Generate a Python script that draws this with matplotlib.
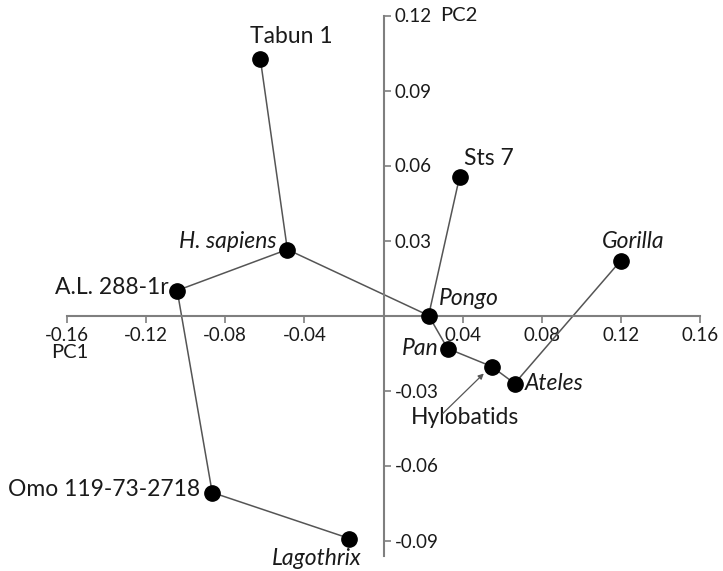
#!/usr/bin/env python3
"""PCA scatter (PC1 vs PC2) with minimum spanning tree links between taxa."""

import matplotlib
matplotlib.use("Agg")
import matplotlib.pyplot as plt

# Specimen / taxon scores on the first two principal components
names = ["Tabun 1", "Sts 7", "H. sapiens", "Gorilla", "A.L. 288-1r", "Pongo",
         "Pan", "Hylobatids", "Ateles", "Omo 119-73-2718", "Lagothrix"]
pc1 = [-0.0623, 0.0385, -0.0486, 0.1200, -0.1043, 0.0228,
       0.0324, 0.0547, 0.0663, -0.0866, -0.0172]
pc2 = [0.1028, 0.0556, 0.0264, 0.0220, 0.0100, 0.0000,
       -0.0132, -0.0204, -0.0272, -0.0708, -0.0892]
italic = [False, False, True, True, False, True,
          True, False, True, False, True]

# Minimum spanning tree edges (by name)
edges = [("Tabun 1", "H. sapiens"), ("H. sapiens", "A.L. 288-1r"),
         ("H. sapiens", "Pongo"), ("Pongo", "Sts 7"), ("Pongo", "Pan"),
         ("Pan", "Hylobatids"), ("Hylobatids", "Ateles"),
         ("Ateles", "Gorilla"), ("A.L. 288-1r", "Omo 119-73-2718"),
         ("Omo 119-73-2718", "Lagothrix")]

xticks = [-0.16, -0.12, -0.08, -0.04, 0.04, 0.08, 0.12, 0.16]
yticks = [-0.09, -0.06, -0.03, 0.03, 0.06, 0.09, 0.12]

# label placement: (dx, dy in pixels, ha)
label_pos = {
    "Tabun 1": (31, 22, "center"),
    "Sts 7": (4, 18, "left"),
    "H. sapiens": (-11, 8, "right"),
    "Gorilla": (12, 19, "center"),
    "A.L. 288-1r": (-9, 3, "right"),
    "Pongo": (10, 17, "left"),
    "Pan": (-9, 0, "right"),
    "Ateles": (10, 0, "left"),
    "Omo 119-73-2718": (-12, 3, "right"),
    "Lagothrix": (-33, -20, "center"),
}

plt.rcParams['font.family'] = ['Lato', 'DejaVu Sans']

fig = plt.figure(figsize=(7.23, 5.71), dpi=100)
ax = fig.add_axes([67 / 723, 15.5 / 571, 633 / 723, 540 / 571])
ax.set_xlim(-0.16, 0.16)
ax.set_ylim(-0.096, 0.12)

idx = {n: i for i, n in enumerate(names)}
for a, b in edges:
    i, j = idx[a], idx[b]
    ax.plot([pc1[i], pc1[j]], [pc2[i], pc2[j]], color='#555555', lw=1.1,
            zorder=2)
ax.plot(pc1, pc2, 'o', color='black', markersize=11, zorder=3)

for i, n in enumerate(names):
    if n not in label_pos:
        continue
    dx, dy, ha = label_pos[n]
    ax.annotate(n, (pc1[i], pc2[i]), xytext=(dx, dy),
                textcoords='offset pixels', ha=ha, va='center',
                fontsize=16.5, style='italic' if italic[i] else 'normal',
                color='#1a1a1a')

# Hylobatids label sits below, with a pointer arrow
h = idx["Hylobatids"]
ax.annotate("Hylobatids", (pc1[h], pc2[h]), xytext=(-27, -51),
            textcoords='offset pixels', ha='center', va='center',
            fontsize=16.5, color='#1a1a1a')
ax.annotate("", (pc1[h] - 0.004, pc2[h] - 0.0028), xytext=(-41, -40),
            textcoords='offset pixels',
            arrowprops=dict(arrowstyle='-|>', color='#555555', lw=0.9,
                            mutation_scale=8, shrinkA=0, shrinkB=0))

# axes crossing at the origin
for s in ['top', 'left']:
    ax.spines[s].set_visible(False)
ax.spines['bottom'].set_position(('data', 0))
ax.spines['right'].set_position(('data', 0))
for s in ['bottom', 'right']:
    ax.spines[s].set_color('#7f7f7f')
    ax.spines[s].set_linewidth(1.5)
ax.yaxis.tick_right()
ax.set_xticks(xticks)
ax.set_yticks(yticks)
ax.set_xticklabels([f"{v:.2f}" for v in xticks])
ax.set_yticklabels([f"{v:.2f}" for v in yticks])
ax.tick_params(axis='both', direction='out', length=5, width=1.2,
               color='#7f7f7f', labelsize=13.5, labelcolor='#1a1a1a', pad=3)

ax.annotate("PC1", (-0.16, 0), xytext=(3, -37), textcoords='offset pixels',
            ha='center', va='center', fontsize=14.5, color='#1a1a1a')
ax.annotate("PC2", (0, 0.12), xytext=(57, 0), textcoords='offset pixels',
            ha='left', va='center', fontsize=14.5, color='#1a1a1a')

fig.savefig("out.png", dpi=100)
